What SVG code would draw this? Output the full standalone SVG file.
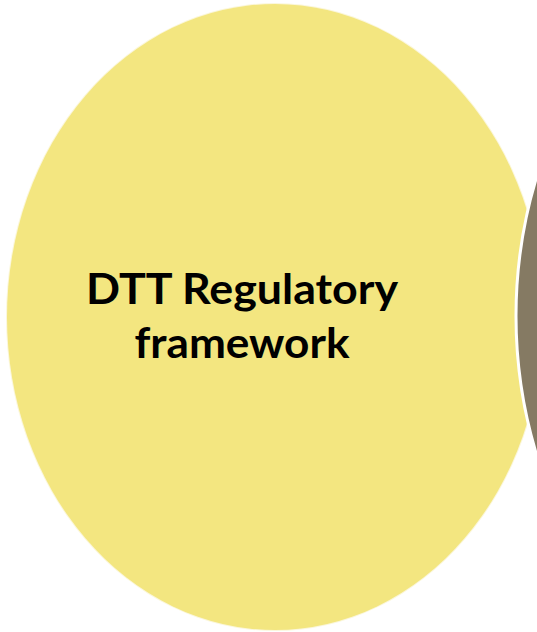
<svg xmlns="http://www.w3.org/2000/svg" width="537" height="632" viewBox="0 0 537 632">
<style>
.lbl{font-family:Lato,"Open Sans","Liberation Sans",sans-serif;font-weight:bold;font-size:42px;fill:#000;text-anchor:middle}
</style>
<rect width="537" height="632" fill="#ffffff"/>
<g id="node-regulatory">
<ellipse cx="275" cy="317" rx="269" ry="314" fill="#fbf7dc"/>
<ellipse cx="275" cy="317" rx="268" ry="313" fill="#f3e680"/>
<text class="lbl" x="242" y="304" textLength="312" lengthAdjust="spacingAndGlyphs">DTT Regulatory</text>
<text class="lbl" x="242" y="358" textLength="215" lengthAdjust="spacingAndGlyphs">framework</text>
</g>
<g id="node-right">
<circle cx="993" cy="316" r="477" fill="#857a63" stroke="#ffffff" stroke-width="3"/>
</g>
<g id="connectors"></g>
</svg>
